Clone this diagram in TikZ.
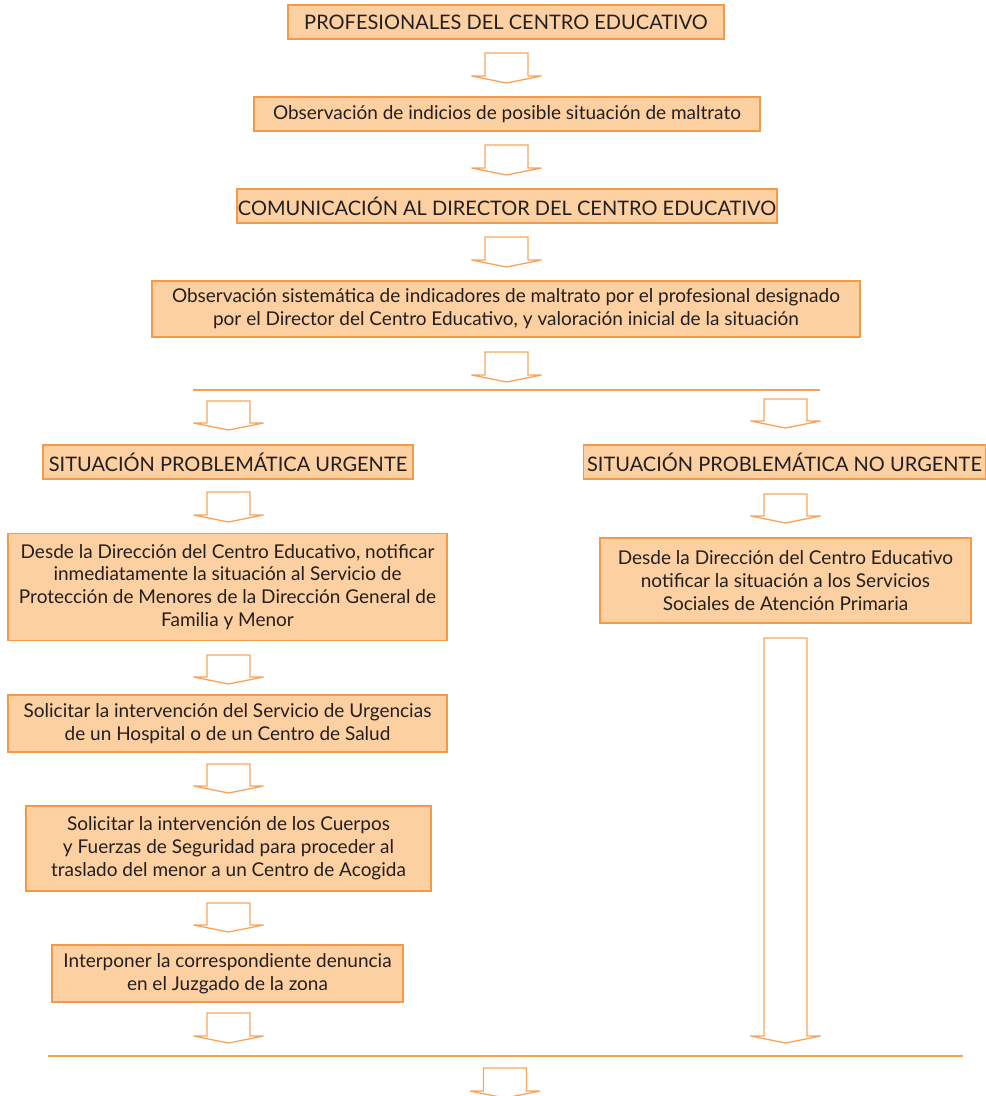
\documentclass[tikz,border=0pt]{standalone}
\usepackage{fontspec}
\setmainfont{Lato}
\usetikzlibrary{calc}
\definecolor{boxfill}{HTML}{FDD0A2}
\definecolor{boxline}{HTML}{F39A48}
\definecolor{arrline}{HTML}{F7A45A}
\definecolor{sepline}{HTML}{F7A050}
\definecolor{txt}{HTML}{231F20}
\newcommand{\flowarrow}[2]{%
  \draw[arrowline] let \p1=#1, \p2=#2 in
    ($(\x1,\y1)+(-21.5pt,0)$) -- ($(\x1,\y1)+(21.5pt,0)$) -- ($(\x1,\y2)+(21.5pt,7pt)$)
    -- ($(\x1,\y2)+(35pt,7pt)$) -- (\x1,\y2) -- ($(\x1,\y2)+(-35pt,7pt)$)
    -- ($(\x1,\y2)+(-21.5pt,7pt)$) -- cycle;}
\begin{document}
\begin{tikzpicture}[x=1pt,y=-1pt,
  flowbox/.style={draw=boxline, fill=boxfill, line width=1.6pt, inner sep=0pt,
     align=center, text=txt, font=\fontsize{19}{22.8}\selectfont},
  capsbox/.style={flowbox, font=\fontsize{20}{24}\selectfont},
  arrowline/.style={draw=arrline, line width=1.3pt, line join=miter},
  sep/.style={draw=sepline, line width=1.4pt}]
\useasboundingbox (0,0) rectangle (986,1096);

\node[capsbox, minimum width=436, minimum height=34] (b1) at (506,22) {PROFESIONALES DEL CENTRO EDUCATIVO};
\node[flowbox, minimum width=506, minimum height=34] (b2) at (507,114) {Observación de indicios de posible situación de maltrato};
\node[capsbox, minimum width=540, minimum height=34] (b3) at (507,206) {COMUNICACIÓN AL DIRECTOR DEL CENTRO EDUCATIVO};
\node[flowbox, minimum width=708, minimum height=56] (b4) at (506,309) {Observación sistemática de indicadores de maltrato por el profesional designado\\por el Director del Centro Educativo, y valoración inicial de la situación};

\node[capsbox, minimum width=370, minimum height=34] (u1) at (228,462) {SITUACIÓN PROBLEMÁTICA URGENTE};
\node[capsbox, minimum width=402, minimum height=34] (n1) at (784.5,462) {SITUACIÓN PROBLEMÁTICA NO URGENTE};

\node[flowbox, minimum width=439, minimum height=107] (u2) at (227.5,587) {Desde la Dirección del Centro Educativo, notificar\\inmediatamente la situación al Servicio de\\Protección de Menores de la Dirección General de\\Familia y Menor};
\node[flowbox, minimum width=371, minimum height=85] (n2) at (785.5,580.5) {Desde la Dirección del Centro Educativo\\notificar la situación a los Servicios\\Sociales de Atención Primaria};

\node[flowbox, minimum width=439, minimum height=57] (u3) at (227.5,723.5) {Solicitar la intervención del Servicio de Urgencias\\de un Hospital o de un Centro de Salud};
\node[flowbox, minimum width=405, minimum height=85] (u4) at (228.5,848.5) {Solicitar la intervención de los Cuerpos\\y Fuerzas de Seguridad para proceder al\\traslado del menor a un Centro de Acogida};
\node[flowbox, minimum width=351, minimum height=57] (u5) at (227.5,973.5) {Interponer la correspondiente denuncia\\en el Juzgado de la zona};

% separator lines
\coordinate (s1l) at (193,390);
\coordinate (s1r) at (820,390);
\draw[sep] (s1l) -- (s1r);
\coordinate (s2l) at (48,1056);
\coordinate (s2r) at (963,1056);
\draw[sep] (s2l) -- (s2r);

% arrow end points
\coordinate (a1t) at (506.5,53);   \coordinate (a1b) at (506.5,83);
\coordinate (a2t) at (506.5,145);  \coordinate (a2b) at (506.5,175);
\coordinate (a3t) at (506.5,237);  \coordinate (a3b) at (506.5,267);
\coordinate (a4t) at (506.5,352);  \coordinate (a4b) at (506.5,382);
\coordinate (l1t) at (228.5,401);  \coordinate (l1b) at (228.5,430);
\coordinate (r1t) at (785.5,399);  \coordinate (r1b) at (785.5,428);
\coordinate (l2t) at (228.5,492);  \coordinate (l2b) at (228.5,522);
\coordinate (r2t) at (785.5,494);  \coordinate (r2b) at (785.5,523);
\coordinate (l3t) at (228.5,655);  \coordinate (l3b) at (228.5,684);
\coordinate (l4t) at (228.5,764);  \coordinate (l4b) at (228.5,793);
\coordinate (l5t) at (228.5,903);  \coordinate (l5b) at (228.5,932);
\coordinate (l6t) at (228.5,1013); \coordinate (l6b) at (228.5,1043);
\coordinate (r3t) at (785.5,638);  \coordinate (r3b) at (785.5,1043);
\coordinate (ft) at (505,1068);    \coordinate (fb) at (505,1098);

\flowarrow{(a1t)}{(a1b)}
\flowarrow{(a2t)}{(a2b)}
\flowarrow{(a3t)}{(a3b)}
\flowarrow{(a4t)}{(a4b)}
\flowarrow{(l1t)}{(l1b)}
\flowarrow{(r1t)}{(r1b)}
\flowarrow{(l2t)}{(l2b)}
\flowarrow{(r2t)}{(r2b)}
\flowarrow{(l3t)}{(l3b)}
\flowarrow{(l4t)}{(l4b)}
\flowarrow{(l5t)}{(l5b)}
\flowarrow{(l6t)}{(l6b)}
\flowarrow{(r3t)}{(r3b)}
\flowarrow{(ft)}{(fb)}
\end{tikzpicture}
\end{document}
